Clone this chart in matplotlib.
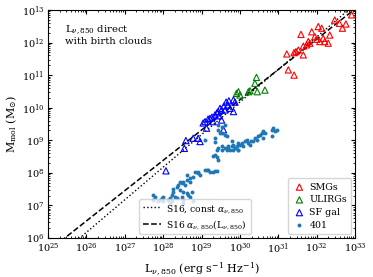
import numpy as np
import matplotlib
matplotlib.use("Agg")
import matplotlib.pyplot as plt

plt.rcParams['font.family'] = ['DejaVu Serif']
plt.rcParams['mathtext.fontset'] = 'dejavuserif'

# log10 values
smg_logL = [31.59, 32.04, 32.13, 31.87, 32.34, 32.47, 32.59, 32.76, 32.67, 32.91,
            31.95, 32.00, 32.17, 32.21, 32.08, 31.82, 31.74, 31.65, 31.52, 31.46,
            31.41, 31.65, 31.22, 31.26, 31.41, 32.30, 31.78]
smg_logM = [12.25, 12.49, 12.44, 12.33, 12.23, 12.69, 12.59, 12.57, 12.44, 12.85,
            12.18, 12.10, 12.13, 12.03, 12.03, 11.98, 11.93, 11.89, 11.77, 11.72,
            11.69, 11.62, 11.65, 11.16, 11.00, 11.98, 12.03]

ulirg_logL = [30.43, 30.39, 29.96, 29.91, 30.22, 30.26, 30.45, 30.65, 30.00]
ulirg_logM = [10.93, 10.75, 10.49, 10.44, 10.49, 10.52, 10.49, 10.54, 10.39]

sf_logL = [28.07, 28.55, 28.59, 28.78, 28.91, 28.96, 29.09, 29.13, 29.22, 29.30,
           29.35, 29.43, 29.48, 29.52, 29.52, 29.57, 29.64, 29.69, 29.74, 29.83,
           29.83, 29.87, 29.58, 29.40, 29.27, 29.17, 29.04, 29.61, 29.71, 29.45]
sf_logM = [8.06, 8.75, 8.99, 9.06, 9.06, 8.96, 9.57, 9.37, 9.67, 9.57,
           9.78, 9.88, 9.98, 9.93, 9.62, 9.32, 10.17, 10.08, 9.98, 10.24,
           9.88, 10.17, 10.05, 9.84, 9.71, 9.65, 9.53, 9.93, 10.21, 9.75]

sim_logL = [27.74, 27.79, 27.87, 27.92, 27.96, 28.00, 28.00, 28.13, 28.18, 28.22,
            28.26, 28.31, 28.35, 28.18, 28.22, 28.35, 28.39, 28.48, 28.52, 28.61,
            28.70, 28.78, 28.91, 28.96, 29.13, 29.22, 29.30, 28.57, 28.44, 28.52,
            28.61, 28.65, 28.70, 28.48, 28.52, 28.52, 28.78, 28.74, 28.44, 28.70,
            28.83, 29.39, 29.09, 29.17, 29.35, 29.30, 29.43, 29.39,
            29.09, 29.35, 29.43, 29.52, 29.61, 29.65, 29.43, 29.52, 29.61, 29.39,
            29.43, 29.52, 29.61, 29.65, 29.70, 29.74, 29.78, 29.83, 29.87, 29.91,
            29.96, 29.78, 29.96, 30.00, 30.04, 30.13, 30.17, 30.22, 30.09, 30.26,
            30.30, 30.35, 30.39, 30.44, 30.48, 30.52, 30.57, 30.61, 30.65, 30.61,
            30.83, 30.91, 30.83, 30.87, 30.96, 29.83, 29.96, 29.35, 29.52, 29.70,
            29.35, 29.48, 28.61, 28.91, 27.74, 28.26]
sim_logM = [7.32, 7.27, 7.12, 7.17, 7.22, 7.27, 7.12, 7.17, 7.22, 7.32,
            7.42, 7.27, 7.22, 7.07, 7.12, 7.575, 7.63, 7.68, 7.73, 7.78,
            7.83, 7.88, 8.04, 7.93, 8.09, 8.04, 8.04, 7.63, 7.47, 7.42,
            7.37, 7.32, 7.27, 7.27, 7.17, 7.07, 7.12, 7.42, 7.73, 7.73,
            8.04, 8.07, 8.10, 8.10, 8.05, 8.51, 8.40, 8.49,
            9.02, 9.07, 9.32, 9.22, 9.48, 9.12, 9.47, 9.42, 9.16, 8.71,
            8.76, 8.81, 8.76, 8.71, 8.76, 8.71, 8.81, 8.86, 8.76, 8.81,
            8.71, 8.97, 8.92, 8.86, 8.92, 8.97, 9.02, 8.92, 8.81, 8.86,
            8.97, 8.97, 9.07, 9.02, 9.12, 9.17, 9.22, 9.27, 9.22, 9.07,
            9.32, 9.27, 9.12, 9.37, 9.32, 8.70, 8.70, 8.55, 8.70, 8.81,
            8.96, 9.21, 7.93, 7.99, 7.17, 7.50]

# S16 relations
alpha0 = 6.7e19
L_line = np.logspace(25, 33, 200)
M_const = L_line / alpha0
M_var = L_line / (alpha0 * (L_line / 1e31) ** 0.07)

fig = plt.figure(figsize=(3.73, 2.77), dpi=100)
ax = fig.add_axes([0.129, 0.141, 0.823, 0.823])

l1, = ax.plot(L_line, M_const, ':', color='k', lw=1.0, label=r'S16, const $\alpha_{\nu,850}$')
l2, = ax.plot(L_line, M_var, '--', color='k', lw=1.1, label=r'S16 $\alpha_{\nu,850}$(L$_{\nu,850}$)')

s1 = ax.scatter(10**np.array(smg_logL), 10**np.array(smg_logM), marker='^', s=20,
                facecolors='none', edgecolors='red', linewidths=0.8, label='SMGs', zorder=3)
s2 = ax.scatter(10**np.array(ulirg_logL), 10**np.array(ulirg_logM), marker='^', s=20,
                facecolors='none', edgecolors='green', linewidths=0.8, label='ULIRGs', zorder=3)
s3 = ax.scatter(10**np.array(sf_logL), 10**np.array(sf_logM), marker='^', s=20,
                facecolors='none', edgecolors='blue', linewidths=0.8, label='SF gal', zorder=3)
s4 = ax.scatter(10**np.array(sim_logL), 10**np.array(sim_logM), marker='o', s=8,
                color='#1f77b4', linewidths=0, label='401', zorder=3)

ax.set_xscale('log')
ax.set_yscale('log')
ax.set_xlim(1e25, 1e33)
ax.set_ylim(1e6, 1e13)
ax.xaxis.set_major_locator(matplotlib.ticker.LogLocator(base=10, numticks=20))
ax.yaxis.set_major_locator(matplotlib.ticker.LogLocator(base=10, numticks=20))
ax.xaxis.set_minor_locator(matplotlib.ticker.LogLocator(base=10, subs=np.arange(2, 10), numticks=20))
ax.yaxis.set_minor_locator(matplotlib.ticker.LogLocator(base=10, subs=np.arange(2, 10), numticks=20))
ax.tick_params(which='both', direction='in', top=True, right=True, labelsize=7, pad=2.5)
ax.tick_params(which='major', length=3)
ax.tick_params(which='minor', length=1.5)

ax.set_xlabel(r'L$_{\nu,850}$ (erg s$^{-1}$ Hz$^{-1}$)', fontsize=8, labelpad=3)
ax.set_ylabel(r'M$_{\rm mol}$ (M$_{\odot}$)', fontsize=8, labelpad=2)

ax.text(0.055, 0.94, 'L$_{\\nu,850}$ direct\nwith birth clouds', transform=ax.transAxes,
        fontsize=7.3, va='top', ha='left', linespacing=1.15)

leg1 = ax.legend(handles=[s1, s2, s3, s4], loc='lower right', fontsize=6.8,
                 handletextpad=0.3, borderpad=0.45, labelspacing=0.4, handlelength=1.5,
                 borderaxespad=0.4)
ax.add_artist(leg1)
ax.legend(handles=[l1, l2], loc='lower right', bbox_to_anchor=(0.672, 0.0), fontsize=6.6,
          handletextpad=0.6, borderpad=0.4, labelspacing=0.35, handlelength=2.0,
          borderaxespad=0.4)

fig.savefig('out.png', dpi=100)
